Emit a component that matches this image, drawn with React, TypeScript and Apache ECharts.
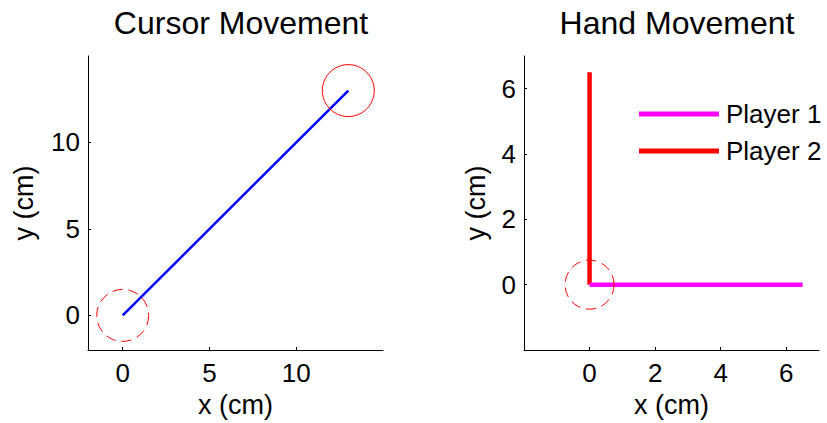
import React, { useEffect, useRef } from "react";
import * as echarts from "echarts";

// Cursor movement (left panel)
const cursorPath: [number, number][] = [
  [0, 0],
  [13, 13],
];
// circles: [x, y, radius, dashed(1) / solid(0)]
const cursorCircles: [number, number, number, number][] = [
  [13, 13, 1.5, 0],
  [0, 0, 1.5, 1],
];

// Hand movement (right panel)
const player1Path: [number, number][] = [
  [0, 0],
  [6.5, 0],
];
const player2Path: [number, number][] = [
  [0, 0],
  [0, 6.5],
];
const handCircles: [number, number, number, number][] = [[0, 0, 0.75, 1]];

const leftTicks = [0, 5, 10];
const rightTicks = [0, 2, 4, 6];
const titles = ["Cursor Movement", "Hand Movement"];
const seriesNames = ["Player 1", "Player 2"];

const FONT = "Liberation Sans, Arial, Helvetica, sans-serif";

function circleRender(params: any, api: any) {
  const c = api.coord([api.value(0), api.value(1)]);
  const s = api.size([api.value(2), api.value(2)]);
  const dashed = api.value(3) === 1;
  return {
    type: "circle",
    shape: { cx: c[0], cy: c[1], r: (s[0] + s[1]) / 2 },
    style: {
      fill: "none",
      stroke: "#ff0000",
      lineWidth: 1,
      lineDash: dashed ? [10, 6] : null,
    },
  };
}

function makeAxis(gridIndex: number, min: number, max: number, ticks: number[], isX: boolean, nameGap: number) {
  return {
    type: "value",
    gridIndex,
    min,
    max,
    name: isX ? "x (cm)" : "y (cm)",
    nameLocation: "middle",
    nameGap,
    nameTextStyle: { fontSize: 27, color: "#000", fontFamily: FONT },
    splitLine: { show: false },
    axisLine: { show: true, onZero: false, lineStyle: { color: "#000", width: 1 } },
    axisTick: {
      show: true,
      inside: true,
      length: 3,
      lineStyle: { color: "#000", width: 1 },
      customValues: ticks,
    },
    axisLabel: {
      show: true,
      fontSize: 26,
      color: "#000",
      fontFamily: FONT,
      margin: isX ? 10 : 8,
      customValues: ticks,
    },
  };
}

export default function App() {
  const ref = useRef<HTMLDivElement>(null);
  useEffect(() => {
    if (!ref.current) return;
    const chart = echarts.init(ref.current, null, { renderer: "svg" });
    chart.setOption({
      animation: false,
      backgroundColor: "#fff",
      title: [
        {
          text: titles[0],
          left: 236,
          textAlign: "center",
          top: 2,
          textStyle: { fontSize: 32, fontWeight: "normal", color: "#000", fontFamily: FONT },
        },
        {
          text: titles[1],
          left: 672,
          textAlign: "center",
          top: 2,
          textStyle: { fontSize: 32, fontWeight: "normal", color: "#000", fontFamily: FONT },
        },
      ],
      grid: [
        { left: 88, top: 56, width: 295, height: 296 },
        { left: 524, top: 56, width: 295, height: 296 },
      ],
      xAxis: [
        makeAxis(0, -2, 15, leftTicks, true, 41),
        makeAxis(1, -2, 7, rightTicks, true, 41),
      ],
      yAxis: [
        makeAxis(0, -2, 15, leftTicks, false, 51),
        makeAxis(1, -2, 7, rightTicks, false, 35),
      ],
      legend: {
        orient: "vertical",
        left: 634,
        top: 95,
        icon: "rect",
        itemWidth: 80,
        itemHeight: 5,
        itemGap: 9,
        data: seriesNames,
        textStyle: {
          fontSize: 26,
          color: "#000",
          fontFamily: FONT,
          lineHeight: 28,
          padding: [0, 0, 0, 2],
        },
      },
      series: [
        {
          type: "line",
          xAxisIndex: 0,
          yAxisIndex: 0,
          data: cursorPath,
          showSymbol: false,
          symbol: "none",
          lineStyle: { color: "#0000ff", width: 2.5 },
          z: 2,
        },
        {
          type: "custom",
          xAxisIndex: 0,
          yAxisIndex: 0,
          data: cursorCircles,
          renderItem: circleRender,
          z: 3,
        },
        {
          type: "line",
          name: seriesNames[1],
          xAxisIndex: 1,
          yAxisIndex: 1,
          data: player2Path,
          symbol: "none",
          color: "#ff0000",
          lineStyle: { color: "#ff0000", width: 4.5 },
          z: 2,
        },
        {
          type: "line",
          name: seriesNames[0],
          xAxisIndex: 1,
          yAxisIndex: 1,
          data: player1Path,
          symbol: "none",
          color: "#ff00ff",
          lineStyle: { color: "#ff00ff", width: 4.5 },
          z: 2,
        },
        {
          type: "custom",
          xAxisIndex: 1,
          yAxisIndex: 1,
          data: handCircles,
          renderItem: circleRender,
          z: 3,
        },
      ],
    });
    return () => chart.dispose();
  }, []);
  return (
    <div
      ref={ref}
      style={{ position: "fixed", left: 0, top: 0, width: 827, height: 423 }}
    />
  );
}
